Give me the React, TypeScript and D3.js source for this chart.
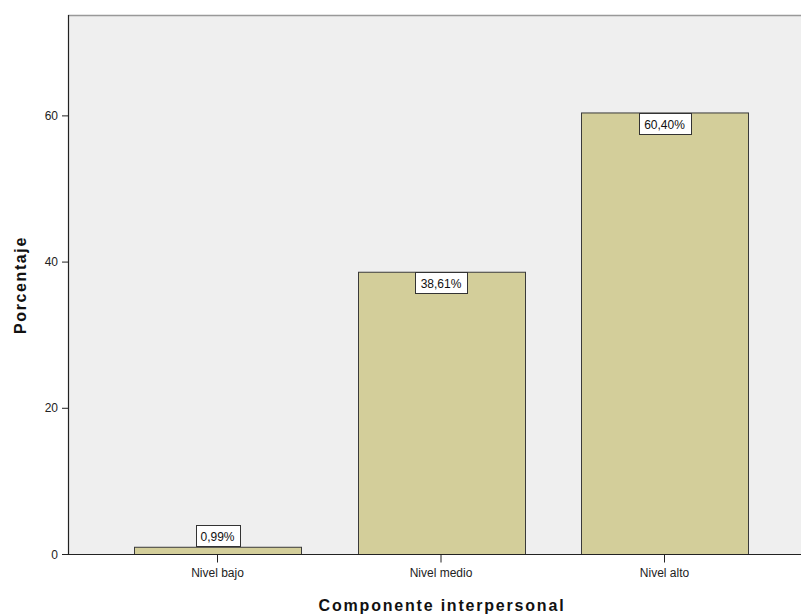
import React from "react";
import * as d3 from "d3";

const categories = ["Nivel bajo", "Nivel medio", "Nivel alto"];
const values = [0.99, 38.61, 60.4];
const valueLabels = ["0,99%", "38,61%", "60,40%"];
const yTicks = [0, 20, 40, 60];
const xTitle = "Componente interpersonal";
const yTitle = "Porcentaje";

const W = 801;
const H = 615;
const plotLeft = 68;
const plotTop = 15;
const plotRight = 801;
const plotBottom = 554.5;

export default function App() {
  const y = d3.scaleLinear().domain([0, 73.8]).range([plotBottom, plotTop]);
  const x = d3
    .scaleBand<string>()
    .domain(categories)
    .range([105.75, 776.25])
    .paddingInner(0.253)
    .paddingOuter(0.1265);
  const bw = x.bandwidth();
  const font = "'Liberation Sans', Arial, sans-serif";

  return (
    <svg
      width={W}
      height={H}
      style={{ position: "absolute", left: 0, top: 0, background: "#fff" }}
      fontFamily={font}
    >
      <rect x={plotLeft} y={plotTop} width={plotRight - plotLeft} height={plotBottom - plotTop} fill="#EFEFEF" />
      <line x1={plotLeft} x2={plotRight} y1={plotTop + 0.5} y2={plotTop + 0.5} stroke="#999" strokeWidth={1.5} />
      {categories.map((c, i) => {
        const bx = x(c)!;
        const by = y(values[i]);
        return (
          <rect
            key={c}
            x={Math.round(bx) + 0.5}
            y={by}
            width={Math.round(bw)}
            height={plotBottom - by}
            fill="#D3CE9A"
            stroke="#3a3a3a"
            strokeWidth={1}
          />
        );
      })}
      <line x1={plotLeft + 0.5} x2={plotLeft + 0.5} y1={plotTop} y2={plotBottom} stroke="#222" strokeWidth={1.2} />
      <line x1={plotLeft} x2={plotRight} y1={plotBottom} y2={plotBottom} stroke="#222" strokeWidth={1.2} />
      {yTicks.map((t) => (
        <g key={t}>
          <line x1={plotLeft - 6} x2={plotLeft} y1={y(t)} y2={y(t)} stroke="#222" />
          <text x={plotLeft - 10} y={y(t)} dy="0.35em" textAnchor="end" fontSize={12} fill="#222">
            {t}
          </text>
        </g>
      ))}
      {categories.map((c) => {
        const cx = x(c)! + bw / 2;
        return (
          <g key={c}>
            <line x1={cx} x2={cx} y1={plotBottom} y2={plotBottom + 8} stroke="#222" />
            <text x={cx} y={plotBottom + 22} textAnchor="middle" fontSize={12} fill="#222">
              {c}
            </text>
          </g>
        );
      })}
      {categories.map((c, i) => {
        const cx = x(c)! + bw / 2;
        const by = y(values[i]);
        const label = valueLabels[i];
        const bwLabel = label.length * 7.6 + 6;
        const bh = 21;
        const inside = by - plotTop > 60 && plotBottom - by > 30;
        const top = inside ? by : by - bh - 1;
        return (
          <g key={"l" + c}>
            <rect
              x={Math.round(cx - bwLabel / 2) + 0.5}
              y={Math.round(top) + 0.5}
              width={Math.round(bwLabel)}
              height={bh}
              fill="#fff"
              stroke="#333"
            />
            <text x={cx} y={top + bh / 2 + 1} dy="0.35em" textAnchor="middle" fontSize={12} fill="#111">
              {label}
            </text>
          </g>
        );
      })}
      <text
        x={442}
        y={605}
        dy="0.35em"
        textAnchor="middle"
        fontSize={16}
        fontWeight="bold"
        letterSpacing={1.8}
        fill="#111"
      >
        {xTitle}
      </text>
      <text
        transform={`translate(20, 285) rotate(-90)`}
        dy="0.35em"
        textAnchor="middle"
        fontSize={16}
        fontWeight="bold"
        letterSpacing={1.6}
        fill="#111"
      >
        {yTitle}
      </text>
    </svg>
  );
}
